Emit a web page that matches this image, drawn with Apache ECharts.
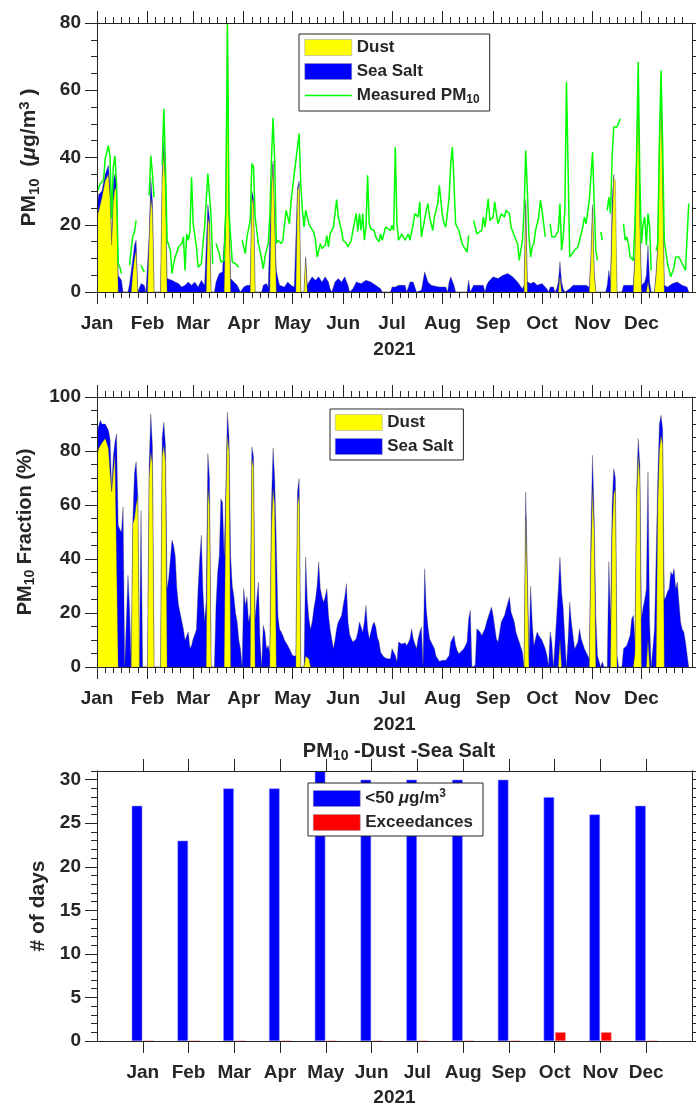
<!DOCTYPE html>
<html>
<head>
<meta charset="utf-8">
<script src="https://cdn.jsdelivr.net/npm/echarts@6/dist/echarts.min.js"></script>
<style>
  html, body { margin: 0; padding: 0; background: #fff; }
  #chart { width: 696px; height: 1108px; }
</style>
</head>
<body>
<div id="chart"></div>
<script>
// ---- data (day of year 0..364, 2021) ----
const monthNames = ["Jan", "Feb", "Mar", "Apr", "May", "Jun", "Jul", "Aug", "Sep", "Oct", "Nov", "Dec"];
const monthStarts = [0, 31, 59, 90, 120, 151, 181, 212, 243, 273, 304, 334];

// measured PM10 (ug/m3), null = missing days
const pm10Measured = [
  [0,29.7],[2,32.2],[4,33.2],[5,39.6],[6,39.6],[7,43.6],[8,40.1],[9,21.8],[10,37.2],[11,40.4],[12,32.2],[13,8.4],[14,7.4],[15,5.5],[17,null],
  [20,7.9],[21,12.9],[22,16.8],[23,17.8],[24,21.3],[25,null],
  [27,7.9],[29,5.9],[30,null],
  [32,28.7],[33,40.6],[34,35.2],[35,28.2],[37,null],
  [40,37.7],[41,54.5],[42,37.2],[43,15.4],[45,12.4],[46,5.5],[47,8.4],[48,10.4],[50,13.4],[52,14.4],[53,16.4],[54,6.4],[55,17.3],[56,15.4],[57,17.8],[58,34.2],[59,20.3],[61,13.4],[62,7.4],[64,8.4],[65,14.4],[66,19.3],[67,27.3],[68,35.2],[70,22.3],[71,8.4],[72,null],
  [73,14.4],[75,11.4],[76,8.9],[78,9.4],[79,24.3],[80,79.8],[81,23.3],[83,8.9],[85,8.4],[87,7.4],[88,null],
  [89,15.4],[91,11.4],[92,16.4],[94,21.3],[95,38.2],[96,37.2],[97,22.3],[99,14.4],[100,12.4],[102,6.9],[103,10.4],[105,14.4],[106,22.3],[107,39.1],[108,51.8],[109,39.1],[110,14.4],[111,15.4],[113,14.4],[114,15.4],[116,24.3],[118,20.3],[119,26.8],[121,35.2],[123,43.1],[124,47.1],[125,32.2],[126,24.3],[127,19.3],[128,24.3],[130,20.3],[131,19.3],[133,17.8],[134,15.4],[135,10.4],[137,14.4],[138,12.9],[140,13.9],[141,16.8],[142,13.4],[143,17.3],[145,19.3],[146,23.3],[147,27.5],[148,22.3],[150,18.3],[151,15.4],[153,14.4],[154,13.4],[156,15.4],[157,18.3],[159,23.3],[160,18],[161,23.3],[162,18.3],[163,23.3],[164,15.4],[165,19.3],[166,34.7],[167,20.3],[168,18.8],[170,18.3],[171,16.4],[173,14.9],[174,17.3],[175,15.4],[177,19.3],[178,19.3],[180,18.3],[181,19.8],[182,18.3],[183,43.1],[184,20.3],[185,15.4],[187,17.3],[189,15.4],[191,17.3],[192,15.4],[194,20.3],[195,23.3],[197,22.3],[198,26.8],[199,16.4],[200,16.4],[202,24.3],[203,26.3],[204,22.3],[206,18.3],[207,22.3],[209,26.3],[210,31.7],[212,22.3],[213,20.3],[214,19.3],[216,28.2],[217,38.2],[218,43.1],[219,32.2],[220,20.3],[222,18.3],[223,18.3],[224,14.4],[225,13.4],[227,11.9],[228,16.8],[229,null],
  [231,21.3],[233,17.3],[234,16.8],[236,18.3],[237,22.3],[238,19.3],[240,27.7],[241,21.3],[243,22.3],[244,26.8],[245,23.3],[246,20.3],[248,23.3],[250,22.3],[251,24.3],[253,23.3],[254,19.3],[255,19.8],[257,15.4],[258,14.4],[259,9.4],[261,15.4],[262,24.3],[263,42.1],[264,30.2],[265,16.4],[266,10.4],[267,13.4],[268,14.4],[269,18.3],[271,22.3],[272,27.3],[273,24.3],[275,16.4],[276,null],
  [278,20.3],[279,16.4],[281,16.4],[282,15.9],[283,18.3],[284,26.3],[285,12.4],[286,16.4],[287,24.3],[288,62.4],[290,10.4],[291,9.9],[293,12.4],[295,13.4],[296,15.4],[298,19.3],[299,22.3],[300,20.3],[302,27.3],[303,27.3],[304,41.6],[305,26.3],[306,12.4],[307,9.4],[308,null],
  [309,17.8],[310,15.4],[311,null],
  [313,24.3],[314,28.2],[315,23.3],[316,40.1],[317,49.1],[319,49.1],[320,49.1],[321,51.5],[322,null],
  [323,20.3],[324,15.4],[325,16.4],[326,14.4],[327,10.4],[329,9.4],[330,20.3],[331,40],[332,68.4],[333,34.2],[334,14.4],[335,20.3],[336,22.3],[337,13.9],[338,23.3],[339,19.3],[340,6.4],[341,null],
  [343,12.4],[344,14.4],[345,44],[346,65.9],[347,44],[348,15.4],[350,8.4],[351,6.4],[352,4.5],[354,7.4],[355,10.4],[357,10.4],[358,10.4],[359,8.4],[361,6.4],[362,16.4],[363,26.3]
];

// dust contribution (ug/m3)
const dustPm = [
  [0,22],[1,24],[3,28],[5,33],[7,35],[8,28],[9,14],[10,27],[11,31],[12,30],[13,0],
  [21,0],[22,6],[23,10],[24,12.4],[25,0],
  [31,0],[32,15],[33,28],[34,24],[35,0],
  [39,0],[40,34],[41,42],[42,30],[43,0],
  [67,0],[68,22],[69,20],[70,0],
  [78,0],[79,22],[80,78],[81,21],[82,0],
  [94,0],[95,28],[96,26],[97,0],
  [106,0],[107,30],[108,38],[109,20],[110,0],
  [122,0],[123,30],[124,32],[125,0],
  [127,0],[128,10],[129,0],
  [262,0],[263,26],[264,0],
  [283,0],[284,4.5],[285,0],
  [302,0],[303,10],[304,25],[305,5],[306,0],
  [315,0],[316,20],[317,34],[318,33],[319,0],
  [329,0],[330,10],[331,40],[332,61],[333,20],[334,0],
  [337,0],[338,3],[339,0],
  [342,0],[343,5],[344,13],[345,44],[346,59],[347,30],[348,0]
];

// dust + sea salt (upper edge of the blue area, ug/m3)
const seaSaltPm = [
  [0,25],[1,29],[3,30],[5,35],[7,37.7],[8,31],[9,15.4],[10,33],[11,35],[12,33],[13,5],[14,4.5],[15,3.5],[16,0],
  [19,0],[20,2.5],[21,2],[22,10],[23,14],[24,15.4],[25,0],
  [26,0],[27,2.5],[28,2.5],[29,2],[30,0],
  [31,0],[32,17],[33,34],[34,27],[35,0],
  [39,0],[40,36],[41,45],[42,32],[43,4],[44,4],[46,3.5],[48,3],[50,2.5],[52,1.5],[54,2],[56,3],[58,2],[60,3],[62,1.5],[64,3.5],[66,2],[67,14],[68,26],[69,22],[70,0],
  [72,0],[73,3],[75,5.5],[77,6],[78,5.5],[79,25],[80,79],[81,23],[82,4],[84,3],[86,2],[88,0],
  [89,0],[90,1.5],[92,2],[93,1.5],[94,2],[95,30],[96,28],[97,0],
  [101,0],[102,2],[104,2.5],[105,1.5],[106,2],[107,32],[108,39],[109,22],[110,6.4],[111,4],[112,2],[113,2.5],[115,1.5],[117,3],[119,2],[121,1.5],[122,1],[123,31],[124,33],[125,0],
  [127,0],[128,10.5],[129,2],[130,3],[132,4.5],[134,3.5],[136,4.5],[138,3],[140,4.5],[142,3],[143,1],[144,0],
  [145,0],[146,3],[148,4],[150,3],[152,4.5],[154,2],[155,0],
  [156,0],[157,1],[159,3],[162,2.5],[165,3.5],[168,3],[171,2],[174,1],[175,0],
  [180,0],[181,1.5],[183,1.5],[185,2],[187,2],[189,2],[190,0],
  [191,0],[192,3],[194,3],[195,3],[196,0],
  [199,0.5],[201,6],[203,3],[205,2],[206,1.5],[210,1.5],[214,1.5],[215,0],
  [216,3],[217,4.5],[218,4],[219,2],[220,0],
  [227,0],[228,3.5],[229,0],
  [230,0],[231,2],[234,2],[237,2],[238,0],
  [239,2],[240,3],[243,4.5],[246,4],[249,5],[252,5.5],[255,4.5],[258,3],[261,1],[262,2],[263,27.5],[264,3],[266,2.5],[268,3],[270,2],[273,2.5],[276,1],[277,0],
  [278,1.5],[280,1.5],[281,0],
  [282,1],[283,3],[284,9],[285,3],[286,1],[287,0],
  [290,1],[292,2],[295,2],[298,2],[300,2],[302,1.5],[303,11],[304,26],[305,6],[306,0],
  [312,0],[313,2],[314,6.4],[315,3],[316,27],[317,35],[318,35],[319,0],
  [322,0],[323,2],[326,2],[329,2],[330,11],[331,41],[332,63],[333,21],[334,2],[336,3],[337,5],[338,14],[339,3],[340,0],
  [342,0],[343,6],[344,14],[345,45],[346,61],[347,31],[348,2],[350,1.5],[353,2.5],[356,3],[359,2],[362,1.5],[363,0]
];

// dust fraction of PM10 (%)
const dustFrac = [
  [0,78.4],[1,80.9],[3,83],[5,84.6],[6,83],[7,81],[8,72],[9,64.8],[10,72],[11,78.4],[12,78.4],[13,0],
  [21,0],[22,53],[23,55],[24,60],[25,63],[26,0],
  [31,0],[32,70],[33,79.6],[34,75],[35,0],
  [39,0],[40,78],[41,82],[42,76],[43,0],
  [67,0],[68,66],[69,60],[70,0],
  [78,0],[79,60],[80,85.8],[81,80],[82,0],
  [94,0],[95,77],[96,74],[97,0],
  [106,0],[107,50],[108,66],[109,60],[110,0],
  [122,0],[123,60],[124,63.6],[125,0],
  [127,0],[128,4],[129,4],[130,3],[131,0],
  [262,0],[263,56],[264,30],[265,0],
  [283,0],[284,10],[285,0],
  [302,0],[303,40],[304,66],[305,50],[306,0],
  [315,0],[316,50],[317,64],[318,66],[319,0],
  [329,0],[330,5],[331,60],[332,78.4],[333,70],[334,0],
  [337,0],[338,10],[339,0],
  [343,0],[344,60],[345,80],[346,85.8],[347,82],[348,0]
];

// dust + sea salt fraction (upper edge of the blue area, %)
const seaSaltFrac = [
  [0,87],[2,91.4],[3,90],[4,90.7],[5,90],[7,87.7],[8,84.6],[9,66],[10,78],[11,83.3],[12,86.4],[13,52.5],[14,51],[15,50],[16,59.3],[17,0],
  [18,0],[19,34],[20,21.6],[21,0],
  [22,55],[23,72],[24,76],[25,64],[26,0],[27,58],[28,0],
  [31,0],[32,75],[33,93.8],[34,82],[35,0],
  [39,0],[40,85],[41,90.7],[42,82],[43,29],[44,33],[45,40],[46,47],[47,45],[48,41],[49,29],[50,23],[51,20],[52,17],[53,14],[54,10],[55,9.3],[56,13],[57,7],[58,8],[59,10.5],[60,12],[61,14],[62,29],[63,40],[64,48.8],[65,28],[66,17],[67,24],[68,79],[69,70],[70,0],
  [72,0],[73,22.8],[74,35],[75,41],[76,62.3],[77,61],[78,41],[79,65],[80,94.4],[81,85],[82,41],[83,30],[84,26],[85,20],[86,16.7],[87,10],[88,6.8],[89,0],[90,29],[91,22.8],[92,26],[93,16.7],[94,20],[95,81.5],[96,78],[97,17.9],[98,25],[99,31.5],[100,10],[101,0],
  [102,15.4],[103,13],[104,6.8],[105,8],[106,5],[107,60],[108,81],[109,70],[110,46],[111,19],[112,14],[113,13],[114,11.7],[115,10],[116,9.3],[117,8],[118,6.8],[119,5.5],[120,4.3],[121,4],[122,4],[123,65],[124,69.8],[125,0],
  [127,0],[128,40.7],[129,25],[130,17.9],[131,14],[132,16.7],[133,21.6],[134,25],[135,30],[136,39],[137,29],[138,26],[139,24],[140,26],[141,29],[142,19.3],[143,14],[144,10.5],[145,6.8],[146,10],[147,14.2],[148,16.7],[149,16.7],[150,19],[151,22.8],[152,26],[153,30.9],[154,16.7],[155,12],[156,10.5],[157,9.3],[159,10.5],[160,13],[161,16.7],[162,17.3],[163,13],[164,16.7],[165,22.8],[166,14.2],[167,10.5],[168,13],[169,15.4],[170,16.7],[171,14.8],[172,11],[173,9.3],[174,5.5],[175,4.5],[176,3.7],[178,3.1],[180,3.1],[181,6.8],[182,7.4],[183,4.3],[184,1.9],[185,9.3],[186,9.9],[187,8.5],[188,8],[189,9],[190,8],[191,9],[192,10.5],[193,14.2],[194,10.5],[196,6.8],[197,10.5],[198,13],[199,14.8],[200,0.6],[201,36.4],[202,21.6],[203,15],[204,10.5],[205,11.1],[207,6.8],[208,4],[209,3.1],[210,2.1],[212,2.5],[214,2.5],[216,4.3],[217,9.3],[219,11.7],[220,8],[221,6],[222,4.9],[223,4.9],[225,6.8],[226,8],[227,9.3],[228,17.9],[229,21],[230,0],
  [231,0],[232,0.6],[233,14.2],[235,13],[236,11.7],[238,14.2],[239,16.7],[241,20.4],[242,22.2],[243,19.1],[245,10.5],[246,9.3],[248,16.7],[250,19.1],[251,21.6],[253,25.9],[254,20.4],[256,16.7],[257,13],[259,9.3],[261,5.5],[262,0],[263,64.8],[264,35],[265,4.3],[266,30],[267,16.7],[268,8],[270,13],[271,11.7],[273,9.9],[275,6.8],[276,4.3],[277,0.6],[278,13],[279,9.3],[280,0],
  [281,9.3],[282,19.1],[283,29],[284,40.7],[285,27.8],[286,21.6],[287,10.5],[288,0],[289,10.5],[290,24],[291,16.7],[293,6.8],[294,8],[295,9.3],[296,14.2],[297,10.5],[299,6.8],[301,4.3],[302,3.1],[303,50],[304,78.4],[305,55],[306,19.1],[307,4.3],[309,0],[310,1.9],[311,0],
  [313,0],[314,39],[315,16.7],[316,60],[317,73.5],[318,70],[319,4.3],[320,0],
  [322,0],[323,6.8],[325,8],[327,11.7],[328,17.9],[329,19.1],[330,10],[331,65],[332,84.6],[333,75],[334,17.9],[335,22],[336,25],[337,29],[338,72.2],[339,16.7],[340,0],
  [341,0],[342,14.2],[343,41.4],[344,70],[345,90],[346,93.2],[347,88],[348,25],[349,26],[350,28],[351,29],[352,35.2],[353,34],[354,36.4],[355,29],[356,31.5],[357,24],[358,16.7],[359,14],[360,13],[361,9.3],[362,9.3],[363,0]
];

// monthly day counts (PM10 - dust - sea salt)
const barMonths = [1, 2, 3, 4, 5, 6, 7, 8, 9, 10, 11, 12];
const daysBelow50 = [27, 23, 29, 29, 31, 30, 30, 30, 30, 28, 26, 27];
const daysExceed = [0, 0, 0, 0, 0, 0, 0, 0, 0, 1, 1, 0];

// ---- styling ----
const FONT = "Liberation Sans";
const INK = "#262626";
const YELLOW = "#ffff00";
const BLUE = "#0000ff";
const GREEN = "#00ff00";
const RED = "#ff0000";

const tickFont = { fontFamily: FONT, fontWeight: "bold", fontSize: 19, color: INK };

function rich(size) {
  const base = { fontFamily: FONT, fontWeight: "bold", fontSize: size, color: INK, lineHeight: size + 4 };
  const small = Math.round(size * 0.7);
  return {
    b: base,
    i: Object.assign({}, base, { fontStyle: "italic" }),
    s: { fontFamily: FONT, fontWeight: "bold", fontSize: small, color: INK, verticalAlign: "bottom", lineHeight: 4 },
    p: { fontFamily: FONT, fontWeight: "bold", fontSize: small, color: INK, verticalAlign: "top", lineHeight: 4 }
  };
}

// minor ticks roughly every 5 days inside each month
const minorDays = [];
monthStarts.forEach((m, i) => {
  const next = i < 11 ? monthStarts[i + 1] : 365;
  for (let k = 5; m + k < next - 3; k += 5) minorDays.push(m + k);
});

function dayAxis(gridIndex, position, ticks, len, labels) {
  return {
    type: "value", gridIndex, position, min: 0, max: 365, z: 5,
    axisLine: { show: true, onZero: false, lineStyle: { color: INK, width: 1 } },
    axisTick: { show: true, customValues: ticks, length: len, lineStyle: { color: INK, width: 1 } },
    axisLabel: labels
      ? Object.assign({ show: true, customValues: monthStarts, margin: 22,
          formatter: v => monthNames[monthStarts.indexOf(v)] }, tickFont)
      : { show: false },
    splitLine: { show: false },
    name: labels ? "2021" : "", nameLocation: "middle", nameGap: 48,
    nameTextStyle: tickFont
  };
}

function dayAxes(gridIndex) {
  return [
    dayAxis(gridIndex, "bottom", monthStarts, 12, true),
    dayAxis(gridIndex, "bottom", minorDays, 6, false),
    dayAxis(gridIndex, "top", monthStarts, 12, false),
    dayAxis(gridIndex, "top", minorDays, 6, false)
  ];
}

function valueAxes(gridIndex, max, interval, name, nameGap, nameSize) {
  const common = {
    type: "value", gridIndex, min: 0, max, interval, z: 5,
    axisLine: { show: true, onZero: false, lineStyle: { color: INK, width: 1 } },
    axisTick: { show: true, length: 12, lineStyle: { color: INK, width: 1 } },
    minorTick: { show: true, splitNumber: 4, length: 6, lineStyle: { color: INK, width: 1 } },
    splitLine: { show: false },
    minorSplitLine: { show: false }
  };
  return [
    Object.assign({}, common, {
      position: "left",
      axisLabel: Object.assign({ margin: 16 }, tickFont),
      name, nameLocation: "middle", nameRotate: 90, nameGap,
      nameTextStyle: { rich: rich(nameSize) }
    }),
    Object.assign({}, common, { position: "right", axisLabel: { show: false } })
  ];
}

function countAxis(position, ticks, len, labels, name) {
  return {
    type: "value", gridIndex: 2, position, min: 0, max: 31, z: 5,
    axisLine: { show: true, onZero: false, lineStyle: { color: INK, width: 1 } },
    axisTick: { show: true, customValues: ticks, length: len, lineStyle: { color: INK, width: 1 } },
    axisLabel: labels ? Object.assign({ customValues: ticks, margin: 16 }, tickFont) : { show: false },
    splitLine: { show: false },
    name: name || "", nameLocation: "middle", nameRotate: 90, nameGap: 45,
    nameTextStyle: Object.assign({}, tickFont, { fontSize: 21 })
  };
}
const countMajor = [0, 5, 10, 15, 20, 25, 30];
const countMinor = [];
for (let v = 1; v <= 31; v++) if (v % 5 !== 0) countMinor.push(v);

function monthAxis(position, labels) {
  return {
    type: "value", gridIndex: 2, position, min: 0, max: 13, z: 5,
    axisLine: { show: true, onZero: false, lineStyle: { color: INK, width: 1 } },
    axisTick: { show: true, customValues: barMonths, length: 12, lineStyle: { color: INK, width: 1 } },
    axisLabel: labels
      ? Object.assign({ customValues: barMonths, margin: 22, formatter: v => monthNames[v - 1] }, tickFont)
      : { show: false },
    splitLine: { show: false },
    name: labels ? "2021" : "", nameLocation: "middle", nameGap: 47,
    nameTextStyle: tickFont
  };
}

function area(name, data, color, xi, yi, z) {
  return {
    type: "line", name, data, xAxisIndex: xi, yAxisIndex: yi, z,
    color, symbol: "none", connectNulls: false,
    lineStyle: { width: 0.5, color: "rgba(70,70,70,0.7)" },
    areaStyle: { color, opacity: 1 }
  };
}

function legendBox(left, top, items) {
  return {
    orient: "vertical", left, top, padding: [5, 10, 5, 5],
    itemWidth: 47, itemHeight: 16, itemGap: 7,
    borderColor: INK, borderWidth: 1, backgroundColor: "#fff",
    selectedMode: false,
    data: items,
    formatter: n => {
      if (n === "Measured PM10") return "{b|Measured PM}{s|10}";
      if (n === "<50 μg/m3") return "{b|<50 }{i|μ}{b|g/m}{p|3}";
      return "{b|" + n + "}";
    },
    textStyle: { rich: rich(17) }
  };
}
const rectItem = (name, color) => ({ name, icon: "rect", itemStyle: { color, borderColor: "#9a9a9a", borderWidth: 0.5 } });
// plain line legend key: no marker on the line
const lineItem = (name, color) => ({ name, itemStyle: { opacity: 0 }, lineStyle: { color, width: 1.5 } });

const chart = echarts.init(document.getElementById("chart"), null, { renderer: "canvas" });
chart.setOption({
  animation: false,
  backgroundColor: "#fff",
  grid: [
    { left: 97, top: 23, width: 595, height: 269 },
    { left: 97, top: 397, width: 595, height: 270 },
    { left: 97, top: 771, width: 595, height: 270 }
  ],
  title: {
    text: "{b|PM}{s|10}{b| -Dust -Sea Salt}",
    left: 394, top: 734, textAlign: "center",
    textStyle: { rich: rich(20) }
  },
  legend: [
    legendBox(299, 34, [rectItem("Dust", YELLOW), rectItem("Sea Salt", BLUE), lineItem("Measured PM10", GREEN)]),
    legendBox(330, 409, [rectItem("Dust", YELLOW), rectItem("Sea Salt", BLUE)]),
    legendBox(308, 783, [rectItem("<50 μg/m3", BLUE), rectItem("Exceedances", RED)])
  ],
  xAxis: [].concat(dayAxes(0), dayAxes(1), [monthAxis("bottom", true), monthAxis("top", false)]),
  yAxis: [].concat(
    valueAxes(0, 80, 20, "{b|PM}{s|10}{b|  (}{i|μ}{b|g/m}{p|3}{b| )}", 55, 21),
    valueAxes(1, 100, 20, "{b|PM}{s|10}{b| Fraction (%)}", 60, 20),
    [countAxis("left", countMajor, 12, true, "# of days"), countAxis("right", countMajor, 12, false),
     countAxis("left", countMinor, 6, false), countAxis("right", countMinor, 6, false)]
  ),
  series: [
    area("Sea Salt", seaSaltPm, BLUE, 0, 0, 2),
    area("Dust", dustPm, YELLOW, 0, 0, 3),
    {
      type: "line", name: "Measured PM10", data: pm10Measured, xAxisIndex: 0, yAxisIndex: 0, z: 4,
      color: GREEN, symbol: "none", connectNulls: false,
      lineStyle: { width: 1.5, color: GREEN }
    },
    area("Sea Salt", seaSaltFrac, BLUE, 4, 2, 2),
    area("Dust", dustFrac, YELLOW, 4, 2, 3),
    {
      type: "bar", name: "<50 μg/m3", xAxisIndex: 8, yAxisIndex: 4,
      data: barMonths.map((m, i) => [m, daysBelow50[i]]),
      barWidth: 10.5, barGap: "10%", color: BLUE,
      itemStyle: { color: BLUE, borderColor: "#8a8aff", borderWidth: 0.5 }
    },
    {
      type: "bar", name: "Exceedances", xAxisIndex: 8, yAxisIndex: 4,
      data: barMonths.map((m, i) => [m, daysExceed[i]]),
      barWidth: 10.5, barGap: "10%", color: RED,
      itemStyle: { color: RED, borderColor: "#ff8a8a", borderWidth: 0.5 }
    }
  ]
});
</script>
</body>
</html>
